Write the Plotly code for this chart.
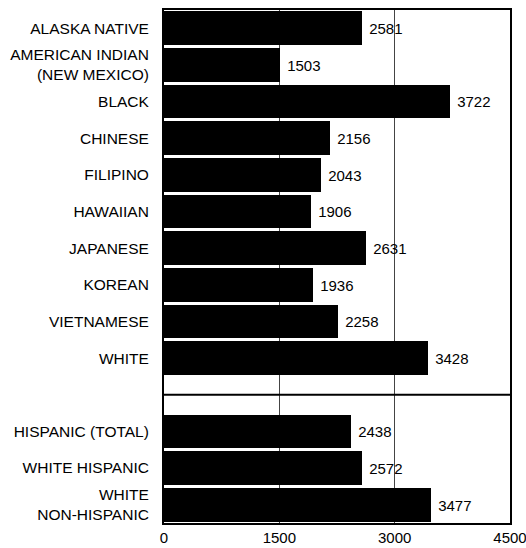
import plotly.graph_objects as go

categories = [
    "ALASKA NATIVE", "AMERICAN INDIAN<br>(NEW MEXICO)", "BLACK", "CHINESE",
    "FILIPINO", "HAWAIIAN", "JAPANESE", "KOREAN", "VIETNAMESE", "WHITE",
    "HISPANIC (TOTAL)", "WHITE HISPANIC", "WHITE<br>NON-HISPANIC",
]
values = [2581, 1503, 3722, 2156, 2043, 1906, 2631, 1936, 2258, 3428, 2438, 2572, 3477]
groups = ["race"] * 10 + ["hispanic"] * 3
x_ticks = [0, 1500, 3000, 4500]

# slot positions: leave one empty slot between the two groups
positions = []
slot = 0
prev = groups[0]
for g in groups:
    if g != prev:
        slot += 1
        prev = g
    positions.append(slot)
    slot += 1
sep_pos = positions[groups.index("hispanic")] - 1

font = "Liberation Sans, Arial, sans-serif"

fig = go.Figure(go.Bar(
    x=values, y=positions, orientation="h",
    marker=dict(color="black", line=dict(width=0)),
    width=0.92,
    text=[" " + str(v) for v in values],
    textposition="outside",
    textfont=dict(family=font, size=15, color="black"),
    constraintext="none",
    cliponaxis=False,
    hoverinfo="skip",
))

fig.add_shape(type="line", xref="paper", x0=0, x1=1, yref="y", y0=sep_pos, y1=sep_pos,
              line=dict(color="black", width=2))

fig.update_layout(
    width=526, height=548,
    margin=dict(l=164, r=16, t=10, b=25, autoexpand=False),
    paper_bgcolor="white", plot_bgcolor="white",
    showlegend=False,
    font=dict(family=font, size=14, color="black"),
    bargap=0,
)
fig.update_xaxes(
    range=[0, 4500], tickvals=x_ticks, ticktext=[str(t) for t in x_ticks],
    showgrid=True, gridcolor="#444444", gridwidth=1,
    showline=True, linecolor="black", linewidth=2, mirror=True,
    ticks="", zeroline=False, tickfont=dict(size=15), automargin=False,
    ticklabeloverflow="allow",
)
fig.update_yaxes(
    range=[max(positions) + 0.5, -0.5],
    tickvals=positions, ticktext=categories,
    showgrid=False, zeroline=False,
    showline=True, linecolor="black", linewidth=2, mirror=True,
    ticks="", ticklabelstandoff=10, tickfont=dict(size=15.5), automargin=False,
)

fig.write_html(
    "out.html",
    config={"displayModeBar": False},
    post_script="document.body.style.margin='0';document.body.style.overflow='hidden';",
)
